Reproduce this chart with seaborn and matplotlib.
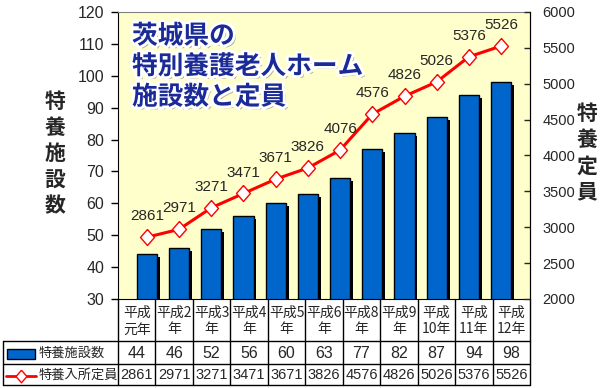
import matplotlib
matplotlib.use('Agg')
import matplotlib.pyplot as plt
import matplotlib.patheffects as pe
from matplotlib.font_manager import FontProperties
from matplotlib.patches import Rectangle
from matplotlib.lines import Line2D
import numpy as np
import pandas as pd
import seaborn as sns

# chart data (12 points in the plot)
years = ['平成元年', '平成2年', '平成3年', '平成4年', '平成5年', '平成6年',
         '平成7年', '平成8年', '平成9年', '平成10年', '平成11年', '平成12年']
facilities = [44, 46, 52, 56, 60, 63, 68, 77, 82, 87, 94, 98]
capacity = [2861, 2971, 3271, 3471, 3671, 3826, 4076, 4576, 4826, 5026, 5376, 5526]

# the data table under the plot has only 11 columns (no 平成7年)
table_cols = ['平成\n元年', '平成2\n年', '平成3\n年', '平成4\n年', '平成5\n年', '平成6\n年',
              '平成8\n年', '平成9\n年', '平成\n10年', '平成\n11年', '平成\n12年']
table_facilities = [44, 46, 52, 56, 60, 63, 77, 82, 87, 94, 98]
table_capacity = [2861, 2971, 3271, 3471, 3671, 3826, 4576, 4826, 5026, 5376, 5526]

title = '茨城県の\n特別養護老人ホーム\n施設数と定員'
left_label = '特養施設数'
right_label = '特養定員'
legend_bar = '特養施設数'
legend_line = '特養入所定員'

sns.set_style('ticks')
jp = 'Noto Sans CJK JP'
plt.rcParams['font.family'] = [jp, 'DejaVu Sans']


def numfont(size=10.5):
    # fairly narrow digits, closest to the bitmap font of the original
    return FontProperties(family=['Liberation Sans', 'DejaVu Sans'], size=size)


W, H = 601, 388
fig = plt.figure(figsize=(W / 100, H / 100), dpi=100)
fig.patch.set_facecolor('white')

bg = fig.add_axes([0, 0, 1, 1])
bg.set_xlim(0, W)
bg.set_ylim(H, 0)
bg.axis('off')

px0, px1, py0, py1 = 118, 530, 12, 299
ax = fig.add_axes([px0 / W, 1 - py1 / H, (px1 - px0) / W, (py1 - py0) / H])
ax.set_facecolor('#FFFFCC')

df = pd.DataFrame({'year': years, 'fac': facilities, 'cap': capacity})
sns.barplot(data=df, x='year', y='fac', color='#0066CC', saturation=1,
            edgecolor='black', linewidth=1, width=0.63, ax=ax)
for p in ax.patches:
    p.set_path_effects([pe.SimplePatchShadow(offset=(2, -2), shadow_rgbFace='black', alpha=1),
                        pe.Normal()])
ax.set_ylim(30, 120)
ax.set_yticks(range(30, 121, 10))
ax.set_xticks([])
ax.set_xlabel('')
ax.set_ylabel('')
ax.tick_params(axis='y', direction='out', length=5, width=1, color='black', pad=5)
for lbl in ax.get_yticklabels():
    lbl.set_fontproperties(numfont(11.5))
for s in ['left', 'bottom', 'right']:
    ax.spines[s].set_color('black')
ax.spines['top'].set_color('#808080')

diamond = [(0, 1), (0.875, 0), (0, -1), (-0.875, 0), (0, 1)]
ax2 = ax.twinx()
sns.lineplot(x=np.arange(len(capacity)), y=capacity, ax=ax2, color='red', linewidth=2.2,
             marker=diamond, markersize=11.5, markerfacecolor='white',
             markeredgecolor='red', markeredgewidth=1)
ax2.set_ylim(2000, 6000)
ax2.set_yticks(range(2000, 6001, 500))
ax2.set_ylabel('')
ax2.tick_params(axis='y', direction='in', length=4, width=1, pad=9)
for lbl in ax2.get_yticklabels():
    lbl.set_fontproperties(numfont(10.5))
for s in ['left', 'top', 'bottom']:
    ax2.spines[s].set_visible(False)
ax2.spines['right'].set_color('black')
for i, v in enumerate(capacity):
    ax2.annotate(str(v), (i, v), xytext=(0, 10), textcoords='offset points',
                 ha='center', va='bottom', fontproperties=numfont(11))

# title with glow and shadow
tfx = [pe.SimplePatchShadow(offset=(2, -2), shadow_rgbFace='#A0A090', alpha=0.8),
       pe.Stroke(linewidth=4, foreground='white'), pe.Normal()]
for k, line in enumerate(title.split('\n')):
    fig.text(132 / W, 1 - (36 + 30.5 * k) / H, line, fontsize=18.5, fontweight='bold',
             family=[jp], color='#1A2A96', ha='left', va='center', path_effects=tfx)

# axis titles written vertically
fig.text(55 / W, 1 - 154 / H, '\n'.join(left_label), family=[jp], fontsize=15,
         fontweight='bold', ha='center', va='center', linespacing=1.3)
fig.text(587 / W, 1 - 153 / H, '\n'.join(right_label), family=[jp], fontsize=15,
         fontweight='bold', ha='center', va='center', linespacing=1.3)

# data table
cw = (px1 - px0) / len(table_cols)
r0, r1, r2, r3 = py1, 341, 364, 385
for k in range(len(table_cols) + 1):
    bg.plot([px0 + k * cw] * 2, [r0, r3], color='black', lw=1)
for y in [r1, r2, r3]:
    bg.plot([3, px1], [y, y], color='black', lw=1)
bg.plot([3, 3], [r1, r3], color='black', lw=1)
for k, lab in enumerate(table_cols):
    xc = px0 + (k + 0.5) * cw
    bg.text(xc, (r0 + r1) / 2 + 1, lab, family=[jp], fontsize=10,
            ha='center', va='center', linespacing=1.25)
    bg.text(xc, (r1 + r2) / 2 + 0.5, str(table_facilities[k]), fontproperties=numfont(11.5),
            ha='center', va='center')
    bg.text(xc, (r2 + r3) / 2 + 0.5, str(table_capacity[k]), fontproperties=numfont(10.5),
            ha='center', va='center')

bg.add_patch(Rectangle((7, 349), 28, 10, facecolor='#0066CC', edgecolor='black', lw=1))
bg.text(39, (r1 + r2) / 2 + 0.5, legend_bar, family=[jp], fontsize=9.5, ha='left', va='center')
bg.add_line(Line2D([6, 36], [376, 376], color='red', lw=2))
bg.plot([21], [376], marker=diamond, markersize=9, markerfacecolor='white',
        markeredgecolor='red', markeredgewidth=1, color='red')
bg.text(39, (r2 + r3) / 2 + 0.5, legend_line, family=[jp], fontsize=9.5, ha='left', va='center')

fig.savefig('out.png', dpi=100, facecolor='white')
